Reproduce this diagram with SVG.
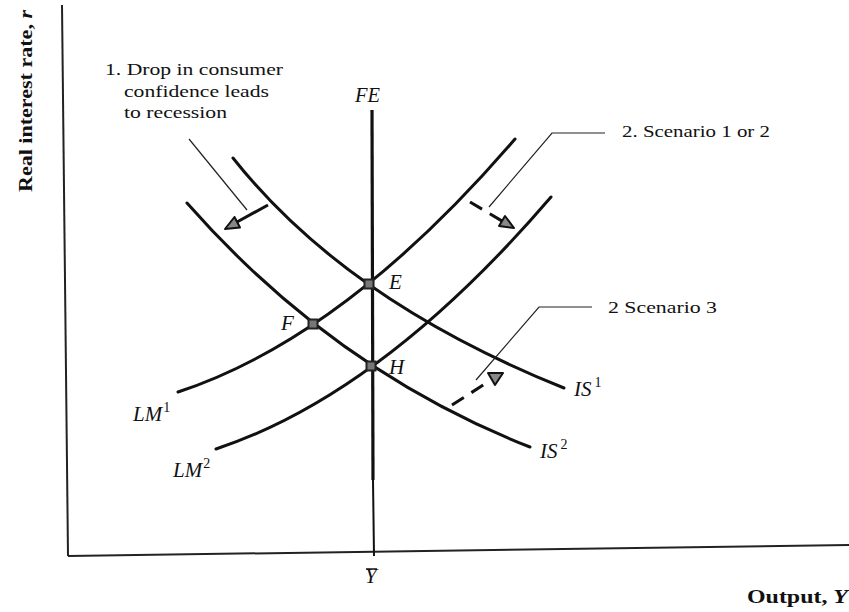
<svg xmlns="http://www.w3.org/2000/svg" width="849" height="612" viewBox="0 0 849 612">
<style>
  .curve{fill:none;stroke:#111;stroke-width:3;stroke-linecap:round}
  .axis{fill:none;stroke:#222;stroke-width:2}
  .lead{fill:none;stroke:#222;stroke-width:1.2}
  .dash{fill:none;stroke:#111;stroke-width:3;stroke-dasharray:14 9}
  .head{fill:#888;stroke:#111;stroke-width:2;stroke-linejoin:round}
  .pt{fill:#777;stroke:#222;stroke-width:2}
  .t{font-family:"Liberation Serif","Times New Roman",serif;font-size:17px;fill:#111}
  .lab{font-family:"Liberation Serif","Times New Roman",serif;font-style:italic;font-size:21px;fill:#111}
  .sup{font-size:14px;font-style:normal}
  .ax{font-family:"Liberation Serif","Times New Roman",serif;font-weight:bold;font-size:18px;fill:#111}
</style>
<rect width="849" height="612" fill="#fff"/>
<g id="axes">
  <line class="axis" x1="62" y1="5" x2="68" y2="556"/>
  <line class="axis" x1="68" y1="556" x2="849" y2="545"/>
</g>
<g id="curves">
  <g id="FE">
    <line x1="372" y1="110" x2="373" y2="480" stroke="#111" stroke-width="3.2"/>
    <line x1="373" y1="480" x2="374" y2="556" stroke="#111" stroke-width="2"/>
  </g>
  <path id="LM1" class="curve" d="M178,392 Q345,337 515,139"/>
  <path id="LM2" class="curve" d="M216,449 Q382,394 551,197"/>
  <path id="IS1" class="curve" d="M233,158 Q345,300 564,388"/>
  <path id="IS2" class="curve" d="M187,203 Q334,370 530,447"/>
</g>
<g id="connectors">
  <line class="lead" x1="189" y1="139" x2="247" y2="210"/>
  <polyline class="lead" points="605,133 552,133 489,207"/>
  <polyline class="lead" points="592,307 539,307 476,380"/>
  <line x1="268" y1="205" x2="237" y2="222" stroke="#111" stroke-width="3"/>
  <polygon class="head" points="225,229 240,227.5 234.5,217"/>
  <line class="dash" x1="470" y1="202" x2="502" y2="221"/>
  <polygon class="head" points="514,228 499,226 505,216"/>
  <line class="dash" x1="452" y1="405" x2="488" y2="382"/>
  <polygon class="head" points="488,373 503,373 495,385"/>
</g>
<g id="node-E"><rect class="pt" x="364.5" y="279.5" width="9" height="9"/><text class="lab" x="389" y="289" font-size="18">E</text></g>
<g id="node-F"><rect class="pt" x="308.5" y="319.5" width="9" height="9"/><text class="lab" x="281" y="330" font-size="18">F</text></g>
<g id="node-H"><rect class="pt" x="366.5" y="361.5" width="9" height="9"/><text class="lab" x="389" y="374" font-size="18">H</text></g>
<g id="labels">
  <text class="lab" x="355" y="102" font-size="19" textLength="25" lengthAdjust="spacingAndGlyphs">FE</text>
  <text class="lab" x="133" y="421">LM<tspan class="sup" dx="1" dy="-9">1</tspan></text>
  <text class="lab" x="173" y="477">LM<tspan class="sup" dx="1" dy="-9">2</tspan></text>
  <text class="lab" x="574" y="396">IS<tspan class="sup" dx="3" dy="-9">1</tspan></text>
  <text class="lab" x="540" y="458">IS<tspan class="sup" dx="3" dy="-9">2</tspan></text>
  <text class="lab" x="365" y="583" font-size="18">Y</text>
  <line x1="366" y1="569" x2="377" y2="569" stroke="#111" stroke-width="1.5"/>
</g>
<g id="annotations">
  <text class="t" x="105" y="75" textLength="178" lengthAdjust="spacingAndGlyphs">1. Drop in consumer</text>
  <text class="t" x="124" y="97" textLength="145" lengthAdjust="spacingAndGlyphs">confidence leads</text>
  <text class="t" x="124" y="118" textLength="103" lengthAdjust="spacingAndGlyphs">to recession</text>
  <text class="t" x="622" y="137" textLength="148" lengthAdjust="spacingAndGlyphs">2. Scenario 1 or 2</text>
  <text class="t" x="608" y="313" textLength="109" lengthAdjust="spacingAndGlyphs">2  Scenario 3</text>
</g>
<g id="axis-titles">
  <text class="ax" x="747" y="603" textLength="101" lengthAdjust="spacingAndGlyphs">Output, <tspan font-style="italic">Y</tspan></text>
  <text class="ax" transform="translate(32,192) rotate(-90)" x="0" y="0" textLength="182" lengthAdjust="spacingAndGlyphs">Real interest rate, <tspan font-style="italic">r</tspan></text>
</g>
</svg>
